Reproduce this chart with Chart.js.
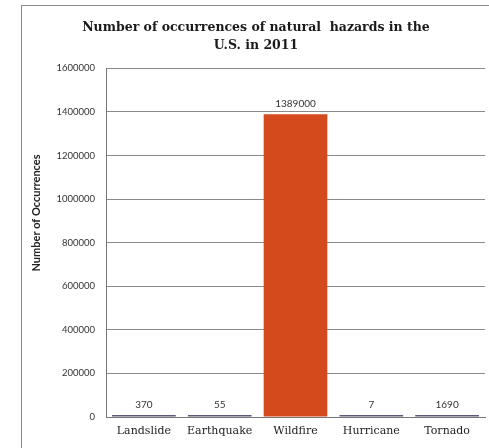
<!DOCTYPE html>
<html>
<head>
<meta charset="utf-8">
<script src="https://cdn.jsdelivr.net/npm/chart.js@4/dist/chart.umd.min.js"></script>
<style>
  html, body { margin: 0; padding: 0; background: #fff; }
  #page { position: relative; width: 489px; height: 448px; overflow: hidden; }
  #frame { position: absolute; left: 21px; top: 5px; width: 500px; height: 460px;
           border-left: 1px solid #8a8a8a; border-top: 1px solid #8a8a8a; }
  #wrap { position: absolute; left: 27px; top: 0; width: 462px; height: 448px; }
</style>
</head>
<body>
<div id="page">
  <div id="frame"></div>
  <div id="wrap"><canvas id="chart"></canvas></div>
</div>
<script>
// Natural hazard occurrences in the U.S., 2011
const hazards = ['Landslide', 'Earthquake', 'Wildfire', 'Hurricane', 'Tornado'];
const occurrences = [370, 55, 1389000, 7, 1690];
const barColors = ['#5b5878', '#5b5878', '#d54a1c', '#5b5878', '#5b5878'];
const titleLines = ['Number of occurrences of natural  hazards in the', 'U.S. in 2011'];
const yAxisTitle = 'Number of Occurrences';
const yMax = 1600000;
const yStep = 200000;

// Value labels above each bar
const valueLabels = {
  id: 'valueLabels',
  afterDatasetsDraw(chart) {
    const ctx = chart.ctx;
    const meta = chart.getDatasetMeta(0);
    ctx.save();
    ctx.font = '10px Lato, "Liberation Sans", sans-serif';
    ctx.fillStyle = '#333';
    ctx.textAlign = 'center';
    ctx.textBaseline = 'bottom';
    meta.data.forEach((bar, i) => {
      ctx.fillText(String(occurrences[i]), bar.x, bar.y - 5);
    });
    ctx.restore();
  }
};

// Rotated y-axis title
const yTitle = {
  id: 'yTitle',
  afterDraw(chart) {
    const ctx = chart.ctx;
    ctx.save();
    ctx.translate(9, 213);
    ctx.rotate(-Math.PI / 2);
    ctx.font = 'bold 11px Lato, "Liberation Sans", sans-serif';
    ctx.fillStyle = '#222';
    ctx.textAlign = 'center';
    ctx.textBaseline = 'middle';
    ctx.fillText(yAxisTitle, 0, 0);
    ctx.restore();
  }
};

new Chart(document.getElementById('chart'), {
  type: 'bar',
  data: {
    labels: hazards,
    datasets: [{
      data: occurrences,
      backgroundColor: barColors,
      borderWidth: 0,
      minBarLength: 2,
      barPercentage: 0.84,
      categoryPercentage: 1.0
    }]
  },
  options: {
    responsive: true,
    maintainAspectRatio: false,
    animation: false,
    layout: { padding: { top: 19, right: 4, bottom: 0, left: 0 } },
    plugins: {
      legend: { display: false },
      tooltip: { enabled: false },
      title: {
        display: true,
        text: titleLines,
        color: '#1a1a1a',
        font: { family: '"DejaVu Serif", serif', size: 12.5, weight: 'bold', lineHeight: 1.45 },
        padding: { top: 0, bottom: 13 }
      }
    },
    scales: {
      x: {
        grid: { display: false, drawTicks: false },
        border: { display: true, color: '#777', width: 1 },
        ticks: {
          color: '#222',
          padding: 8,
          font: { family: '"DejaVu Serif", serif', size: 11 }
        },
        afterFit(scale) { scale.height = 31; }
      },
      y: {
        min: 0,
        max: yMax,
        grid: { color: '#8a8a8a', lineWidth: 1, drawTicks: false },
        border: { display: true, color: '#777', width: 1 },
        ticks: {
          stepSize: yStep,
          color: '#333',
          padding: 11,
          font: { family: 'Lato, "Liberation Sans", sans-serif', size: 9.5 },
          callback: (v) => String(v)
        },
        afterFit(scale) { scale.width = 79; }
      }
    }
  },
  plugins: [valueLabels, yTitle]
});
</script>
</body>
</html>
